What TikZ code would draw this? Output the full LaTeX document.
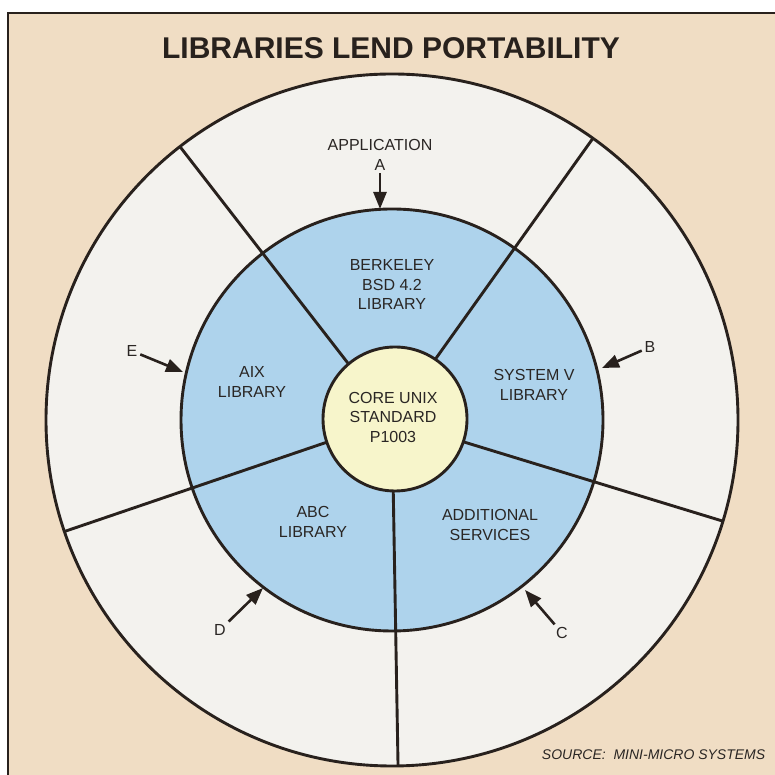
\documentclass[tikz,border=0pt]{standalone}
\usepackage{fontspec}
\setmainfont{Liberation Sans}
\usetikzlibrary{arrows.meta,calc}
\definecolor{paper}{RGB}{240,221,196}
\definecolor{disk}{RGB}{243,242,238}
\definecolor{ring}{RGB}{174,211,236}
\definecolor{core}{RGB}{247,245,203}
\definecolor{ink}{RGB}{40,33,29}
\definecolor{txt}{RGB}{42,38,36}
\begin{document}
\begin{tikzpicture}[x=1pt,y=1pt,line width=2.9pt,
  lbl/.style={font=\fontsize{16}{19.5}\selectfont,text=txt,align=center,inner sep=1.5pt},
  ptr/.style={-{Triangle[length=17pt,width=13pt]},line width=2.6pt,draw=ink}]
  \useasboundingbox (0,0) rectangle (775,775);
  \fill[white] (0,0) rectangle (775,775);
  \fill[paper] (8,0) rectangle (775,762);
  \draw[ink,line width=1.6pt] (8,-5) -- (8,762) -- (780,762);

  \coordinate (O) at (392,355);
  \coordinate (O1) at (395,356);
  \coordinate (tipA) at (380,566);
  \coordinate (tipB) at (602,407);
  \coordinate (tipC) at (525,185);
  \coordinate (tipD) at (263,187);
  \coordinate (tipE) at (183,403);

  % rings
  \fill[disk] (O) circle (346);
  \fill[ring] (O) circle (211);
  \foreach \a in {127.8,54.5,-17,-89,198.8}
    \draw[ink] (O) -- ++(\a:346);
  \draw[ink] (O) circle (211);
  \draw[ink] (O) circle (346);
  \filldraw[fill=core,draw=ink] (O1) circle (72);

  % title and source
  \node[font=\fontsize{30}{34}\bfseries\selectfont,text=ink] (title) at (391,727) {LIBRARIES LEND PORTABILITY};
  \node[font=\fontsize{14}{16}\itshape\selectfont,text=txt,anchor=east] (src) at (770,20) {SOURCE:\ \ MINI-MICRO SYSTEMS};

  % sector labels
  \node[lbl] (bsd) at (392,490) {BERKELEY\\BSD 4.2\\LIBRARY};
  \node[lbl] (aix) at (252,393) {AIX\\LIBRARY};
  \node[lbl] (sysv) at (534,390) {SYSTEM V\\LIBRARY};
  \node[lbl] (abc) at (313,253) {ABC\\LIBRARY};
  \node[lbl] (addl) at (490,250) {ADDITIONAL\\SERVICES};
  \node[lbl] (std) at (393,358) {CORE UNIX\\STANDARD\\P1003};

  % pointers
  \node[lbl] (app) at (380,630) {APPLICATION};
  \node[lbl] (labA) at (380,610) {A};
  \node[lbl] (labB) at (650,428) {B};
  \node[lbl] (labC) at (562,142) {C};
  \node[lbl] (labD) at (220,145) {D};
  \node[lbl] (labE) at (132,424) {E};
  \draw[ptr] (labA) -- (tipA);
  \draw[ptr] (labB) -- (tipB);
  \draw[ptr] (labC) -- (tipC);
  \draw[ptr] (labD) -- (tipD);
  \draw[ptr] (labE) -- (tipE);
\end{tikzpicture}
\end{document}
